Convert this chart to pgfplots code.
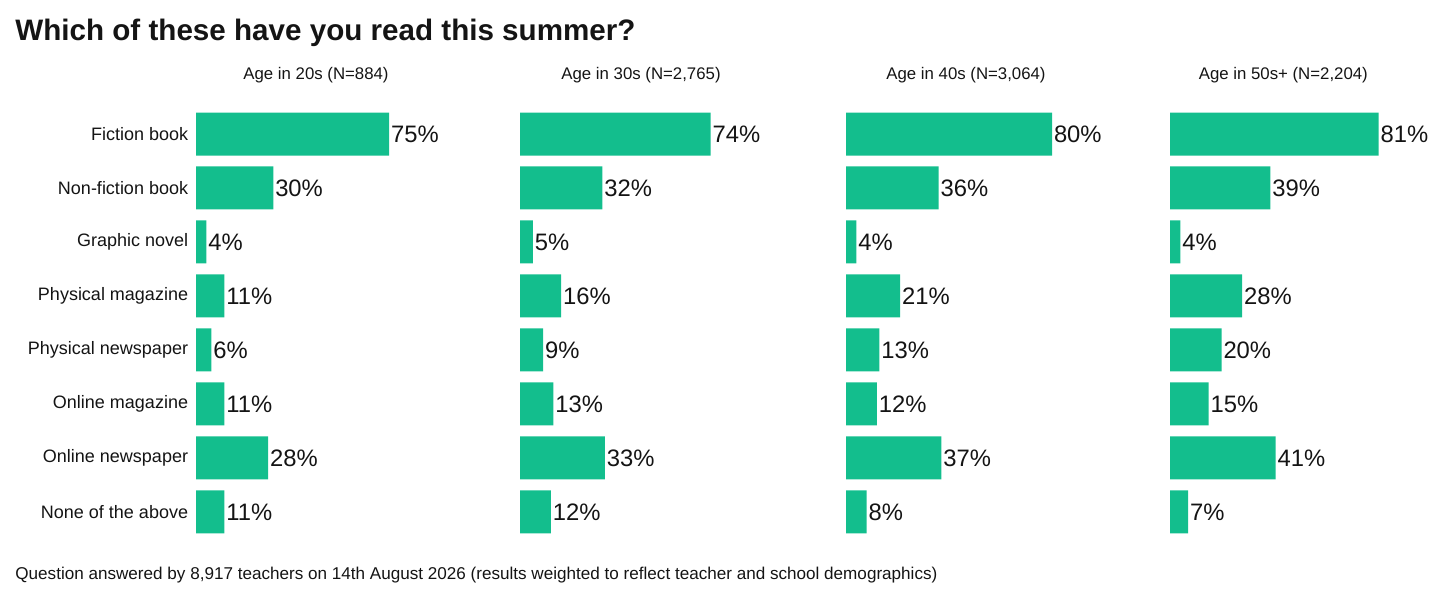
\documentclass[border=0pt]{standalone}
\usepackage{pgfplots}
\pgfplotsset{compat=1.18}
\usepackage{fontspec}
\setmainfont{Liberation Sans}
\definecolor{barc}{RGB}{19,190,141}
\definecolor{txt}{RGB}{20,20,20}
\pgfplotsset{panel/.style={
  xbar, scale only axis, width=128.75pt, height=216pt,
  xmin=0, xmax=100, ymin=-0.5, ymax=7.5, y dir=reverse,
  axis line style={draw=none}, tick style={draw=none},
  xtick=\empty, ytick={0,...,7}, yticklabels={},
  bar width=21.5pt, clip=false,
  point meta=x,
  /pgf/number format/assume math mode=true,
  nodes near coords={\pgfmathprintnumber{\pgfplotspointmeta}\%},
  nodes near coords style={anchor=west, font=\fontsize{11.9}{13}\selectfont, inner sep=0.8pt, text=txt},
  anchor=north west,
  title style={font=\fontsize{8.4}{10}\selectfont, anchor=base, yshift=8pt, text=txt},
}}
\begin{document}
\begin{tikzpicture}
\path[use as bounding box] (0,0) rectangle (720pt,300pt);
\node[anchor=base west, inner sep=0pt, text=txt, font=\fontsize{14.8}{16}\selectfont\bfseries] at (7.5pt,279.5pt) {Which of these have you read this summer?};
\node[anchor=base west, inner sep=0pt, text=txt, font=\fontsize{8.55}{10}\selectfont] at (7.5pt,10.5pt) {Question answered by 8,917 teachers on 14th August 2026 (results weighted to reflect teacher and school demographics)};

\begin{axis}[panel, at={(98pt,246.5pt)},
  title={Age in 20s (N=884)}, title style={at={(0.466,1)}},
  yticklabels={Fiction book,Non-fiction book,Graphic novel,Physical magazine,Physical newspaper,Online magazine,Online newspaper,None of the above},
  yticklabel style={font=\fontsize{9}{11}\selectfont, text=txt, inner sep=0pt, xshift=0.5pt}]
\addplot[fill=barc, draw=none] coordinates {(75,0) (30,1) (4,2) (11,3) (6,4) (11,5) (28,6) (11,7)};
\end{axis}

\begin{axis}[panel, at={(260pt,246.5pt)},
  title={Age in 30s (N=2,765)}, title style={at={(0.47,1)}}]
\addplot[fill=barc, draw=none] coordinates {(74,0) (32,1) (5,2) (16,3) (9,4) (13,5) (33,6) (12,7)};
\end{axis}

\begin{axis}[panel, at={(423pt,246.5pt)},
  title={Age in 40s (N=3,064)}, title style={at={(0.466,1)}}]
\addplot[fill=barc, draw=none] coordinates {(80,0) (36,1) (4,2) (21,3) (13,4) (12,5) (37,6) (8,7)};
\end{axis}

\begin{axis}[panel, at={(585pt,246.5pt)},
  title={Age in 50s+ (N=2,204)}, title style={at={(0.44,1)}}]
\addplot[fill=barc, draw=none] coordinates {(81,0) (39,1) (4,2) (28,3) (20,4) (15,5) (41,6) (7,7)};
\end{axis}
\end{tikzpicture}
\end{document}
